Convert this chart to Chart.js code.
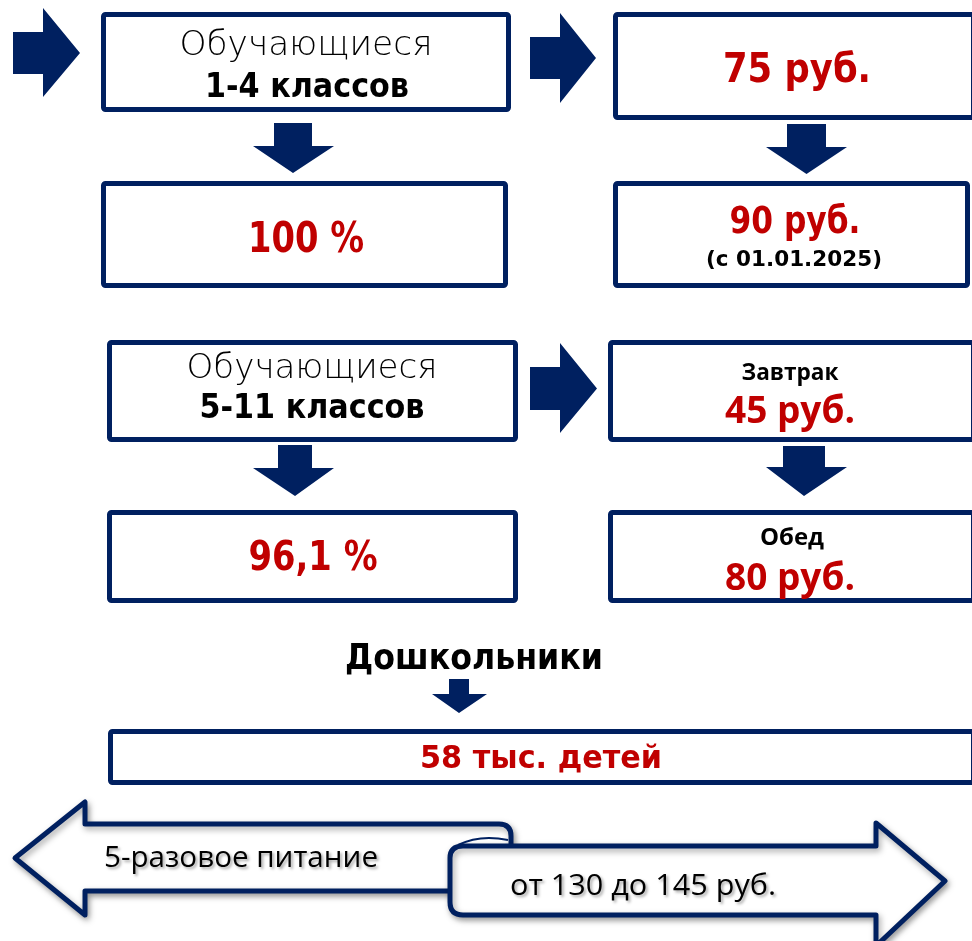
<!DOCTYPE html>
<html>
<head>
<meta charset="utf-8">
<script src="https://cdn.jsdelivr.net/npm/chart.js@4"></script>
<style>
  html, body { margin: 0; padding: 0; background: #fff; }
  #wrap { width: 972px; height: 941px; position: relative; }
</style>
</head>
<body>
<div id="wrap"><canvas id="scheme"></canvas></div>
<script>
// data
const headLines = ['Обучающиеся', '1-4 классов', 'Обучающиеся', '5-11 классов'];
const shareValues = ['100 %', '96,1 %'];
const priceLabels = ['', '', 'Завтрак', 'Обед'];
const priceValues = ['75 руб.', '90 руб.', '45 руб.', '80 руб.'];
const priceNotes = ['', '(с 01.01.2025)', '', ''];
const preschoolTitle = 'Дошкольники';
const preschoolCount = '58 тыс. детей';
const mealPlan = ['5-разовое питание', 'от 130 до 145 руб.'];

const NAVY = '#002060';
const RED = '#C00000';
const GOTHIC = "'DejaVu Sans', sans-serif";
const CALIBRI = "'Open Sans', 'Noto Sans', sans-serif";

// layout in chart units (x 0..972, y 0..941 top-down)
const boxes = [
  [101, 12, 511, 112], [613, 12, 976, 120],
  [101, 181, 508, 288], [613, 181, 970, 288],
  [107, 340, 518, 442], [608, 340, 976, 442],
  [107, 510, 518, 603], [608, 510, 976, 603],
  [108, 729, 976, 785]
];
// shaft x0, head base x, tip x, shaft y0, shaft y1, head y0, head y1
const rightArrows = [
  [13, 43, 80, 32, 74, 8, 97],
  [530, 560, 596, 37, 79, 13, 103],
  [530, 560, 597, 367, 410, 343, 433]
];
// shaft x0, shaft x1, shaft y0, head base y, tip y, head x0, head x1
const downArrows = [
  [274, 312, 123, 146, 173, 253, 334],
  [787, 826, 124, 147, 174, 766, 847],
  [278, 312, 445, 468, 496, 253, 334],
  [783, 825, 446, 467, 496, 766, 847],
  [449, 469, 679, 694, 713, 432, 487]
];

const texts = [
  { s: headLines[0], x: 306, y: 55, w: 253, size: 34, weight: 200, fam: GOTHIC, color: '#000' },
  { s: headLines[1], x: 307, y: 97, w: 204, size: 33, weight: 700, fam: GOTHIC, color: '#000' },
  { s: shareValues[0], x: 306, y: 252, w: 116, size: 43, weight: 700, fam: GOTHIC, color: RED },
  { s: priceValues[0], x: 797, y: 82, w: 148, size: 41, weight: 700, fam: GOTHIC, color: RED },
  { s: priceValues[1], x: 795, y: 233, w: 131, size: 38, weight: 700, fam: GOTHIC, color: RED },
  { s: priceNotes[1], x: 794, y: 266, w: 176, size: 22, weight: 700, fam: GOTHIC, color: '#000' },
  { s: headLines[2], x: 312, y: 378, w: 251, size: 34, weight: 200, fam: GOTHIC, color: '#000' },
  { s: headLines[3], x: 312, y: 418, w: 225, size: 33, weight: 700, fam: GOTHIC, color: '#000' },
  { s: shareValues[1], x: 313, y: 570, w: 129, size: 41, weight: 700, fam: GOTHIC, color: RED },
  { s: priceLabels[2], x: 790, y: 380, w: 97, size: 24, weight: 700, fam: CALIBRI, color: '#000' },
  { s: priceValues[2], x: 790, y: 423, w: 130, size: 38, weight: 700, fam: CALIBRI, color: RED },
  { s: priceLabels[3], x: 792, y: 545, w: 64, size: 24, weight: 700, fam: CALIBRI, color: '#000' },
  { s: priceValues[3], x: 790, y: 590, w: 130, size: 38, weight: 700, fam: CALIBRI, color: RED },
  { s: preschoolTitle, x: 474, y: 669, w: 258, size: 35, weight: 700, fam: GOTHIC, color: '#000' },
  { s: preschoolCount, x: 541, y: 768, w: 242, size: 32, weight: 700, fam: GOTHIC, color: RED },
  { s: mealPlan[0], x: 241, y: 867, w: 274, size: 30, weight: 400, fam: CALIBRI, color: '#000', shadow: true },
  { s: mealPlan[1], x: 643, y: 895, w: 266, size: 30, weight: 400, fam: CALIBRI, color: '#000', shadow: true }
];

const schemePlugin = {
  id: 'scheme',
  afterDraw(chart) {
    const ctx = chart.ctx;
    const xs = chart.scales.x, ys = chart.scales.y;
    const px = v => xs.getPixelForValue(v);
    const py = v => ys.getPixelForValue(v);

    ctx.save();
    ctx.lineJoin = 'round';

    // boxes
    boxes.forEach(b => {
      ctx.beginPath();
      ctx.roundRect(px(b[0]) + 2.5, py(b[1]) + 2.5, px(b[2]) - px(b[0]) - 5, py(b[3]) - py(b[1]) - 5, 2);
      ctx.fillStyle = '#fff';
      ctx.fill();
      ctx.lineWidth = 5;
      ctx.strokeStyle = NAVY;
      ctx.stroke();
    });

    // arrows
    ctx.fillStyle = NAVY;
    rightArrows.forEach(a => {
      const mid = (a[3] + a[4]) / 2;
      ctx.beginPath();
      ctx.moveTo(px(a[0]), py(a[3]));
      ctx.lineTo(px(a[1]), py(a[3]));
      ctx.lineTo(px(a[1]), py(a[5]));
      ctx.lineTo(px(a[2]), py(mid));
      ctx.lineTo(px(a[1]), py(a[6]));
      ctx.lineTo(px(a[1]), py(a[4]));
      ctx.lineTo(px(a[0]), py(a[4]));
      ctx.closePath();
      ctx.fill();
    });
    downArrows.forEach(a => {
      const mid = (a[0] + a[1]) / 2;
      ctx.beginPath();
      ctx.moveTo(px(a[0]), py(a[2]));
      ctx.lineTo(px(a[1]), py(a[2]));
      ctx.lineTo(px(a[1]), py(a[3]));
      ctx.lineTo(px(a[6]), py(a[3]));
      ctx.lineTo(px(mid), py(a[4]));
      ctx.lineTo(px(a[5]), py(a[3]));
      ctx.lineTo(px(a[0]), py(a[3]));
      ctx.closePath();
      ctx.fill();
    });

    // scroll double arrow at the bottom
    ctx.shadowColor = 'rgba(0,0,0,0.35)';
    ctx.shadowBlur = 6;
    ctx.shadowOffsetX = 2;
    ctx.shadowOffsetY = 3;
    ctx.lineWidth = 5;
    ctx.strokeStyle = NAVY;
    ctx.fillStyle = '#fff';

    ctx.beginPath();
    ctx.moveTo(px(15), py(858));
    ctx.lineTo(px(85), py(802));
    ctx.lineTo(px(85), py(824));
    ctx.lineTo(px(499), py(824));
    ctx.quadraticCurveTo(px(511), py(824), px(511), py(836));
    ctx.lineTo(px(511), py(891));
    ctx.lineTo(px(85), py(891));
    ctx.lineTo(px(85), py(915));
    ctx.closePath();
    ctx.fill();
    ctx.stroke();

    ctx.beginPath();
    ctx.moveTo(px(450), py(858));
    ctx.quadraticCurveTo(px(450), py(846), px(463), py(846));
    ctx.lineTo(px(876), py(846));
    ctx.lineTo(px(876), py(823));
    ctx.lineTo(px(945), py(881));
    ctx.lineTo(px(876), py(946));
    ctx.lineTo(px(876), py(915));
    ctx.lineTo(px(463), py(915));
    ctx.quadraticCurveTo(px(450), py(915), px(450), py(902));
    ctx.closePath();
    ctx.fill();
    ctx.stroke();

    // inner curl of the scroll
    ctx.shadowColor = 'transparent';
    ctx.beginPath();
    ctx.moveTo(px(458), py(845));
    ctx.quadraticCurveTo(px(480), py(834), px(508), py(840));
    ctx.lineWidth = 2;
    ctx.stroke();

    // texts
    ctx.textAlign = 'center';
    ctx.textBaseline = 'alphabetic';
    texts.forEach(t => {
      if (!t.s) return;
      ctx.font = `${t.weight} ${t.size}px ${t.fam}`;
      const w = ctx.measureText(t.s).width;
      ctx.save();
      ctx.translate(px(t.x), py(t.y));
      ctx.scale(t.w / w, 1);
      if (t.shadow) {
        ctx.shadowColor = 'rgba(0,0,0,0.35)';
        ctx.shadowBlur = 3;
        ctx.shadowOffsetX = 2;
        ctx.shadowOffsetY = 2;
      }
      ctx.fillStyle = t.color;
      ctx.fillText(t.s, 0, 0);
      ctx.restore();
    });

    ctx.restore();
  }
};

new Chart(document.getElementById('scheme'), {
  type: 'scatter',
  data: { datasets: [{ data: [], pointRadius: 0 }] },
  options: {
    responsive: true,
    maintainAspectRatio: false,
    animation: false,
    events: [],
    layout: { padding: 0 },
    plugins: { legend: { display: false }, tooltip: { enabled: false } },
    scales: {
      x: { type: 'linear', min: 0, max: 972, display: false },
      y: { type: 'linear', min: 0, max: 941, reverse: true, display: false }
    }
  },
  plugins: [schemePlugin]
});
</script>
</body>
</html>
